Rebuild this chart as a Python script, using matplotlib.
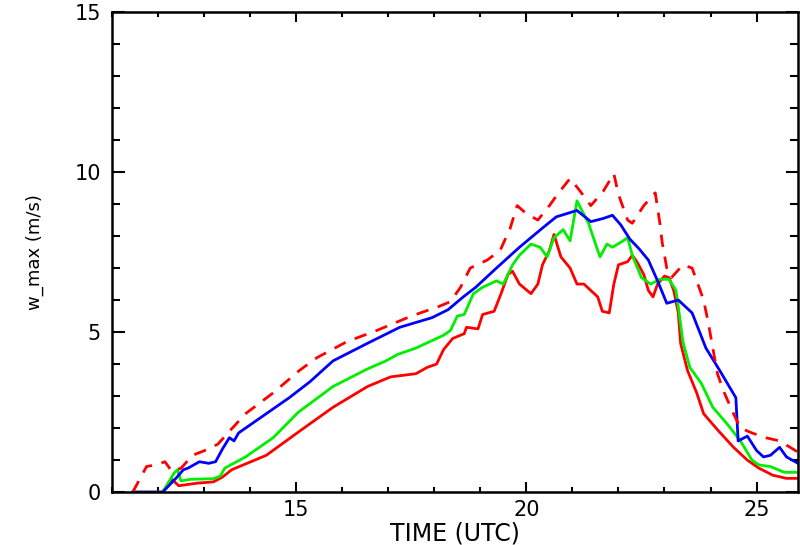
import matplotlib
matplotlib.use("Agg")
import matplotlib.pyplot as plt
from matplotlib.ticker import MultipleLocator

# ---- data ----
dash_x = [11.45, 11.6, 11.75, 11.95, 12.15, 12.3, 12.5, 12.75, 13.1, 13.3, 13.55, 13.9, 14.5,
          15.07, 15.45, 16.1, 16.75, 17.5, 18.1, 18.35, 18.57, 18.78, 19.15, 19.43, 19.65,
          19.8, 20.0, 20.25, 20.5, 20.7, 20.95, 21.17, 21.4, 21.67, 21.9, 22.0, 22.2, 22.3,
          22.55, 22.8, 22.9, 22.95, 23.05, 23.15, 23.4, 23.6, 23.7, 23.85, 23.95, 24.05,
          24.15, 24.3, 24.5, 24.65, 24.9, 25.2, 25.5, 25.9]
dash_y = [0.0, 0.4, 0.8, 0.85, 0.95, 0.65, 0.75, 1.15, 1.35, 1.5, 1.9, 2.45, 3.1,
          3.8, 4.2, 4.7, 5.05, 5.5, 5.8, 5.95, 6.4, 7.0, 7.25, 7.55, 8.25,
          8.95, 8.7, 8.5, 8.95, 9.35, 9.8, 9.4, 8.95, 9.4, 9.95, 9.3, 8.5, 8.4,
          8.95, 9.35, 8.4, 7.8, 7.0, 6.7, 7.1, 7.0, 6.6, 6.0, 5.3, 4.5,
          3.7, 3.1, 2.45, 2.0, 1.85, 1.7, 1.6, 1.25]

blue_x = [11.45, 12.1, 12.4, 12.55, 12.65, 12.9, 13.1, 13.25, 13.4, 13.55, 13.65, 13.75,
          14.25, 14.85, 15.3, 15.8, 16.55, 17.25, 17.95, 18.3, 18.63, 18.9, 19.35, 19.85,
          20.35, 20.65, 21.1, 21.4, 21.67, 21.87, 22.05, 22.25, 22.45, 22.65, 22.85, 23.05,
          23.3, 23.6, 23.9, 24.2, 24.55, 24.6, 24.8, 25.0, 25.15, 25.3, 25.5, 25.65, 25.9]
blue_y = [0.0, 0.0, 0.45, 0.7, 0.75, 0.95, 0.9, 0.95, 1.35, 1.7, 1.6, 1.85,
          2.35, 2.95, 3.45, 4.1, 4.65, 5.15, 5.45, 5.7, 6.1, 6.4, 7.0, 7.65,
          8.25, 8.6, 8.8, 8.45, 8.55, 8.65, 8.35, 7.9, 7.6, 7.25, 6.6, 5.9,
          6.0, 5.6, 4.5, 3.8, 2.95, 1.6, 1.75, 1.3, 1.1, 1.15, 1.4, 1.1, 0.9]

green_x = [11.45, 12.1, 12.35, 12.42, 12.5, 12.7, 13.2, 13.35, 13.45, 13.9, 14.5, 15.05,
           15.8, 16.55, 16.95, 17.2, 17.6, 18.2, 18.35, 18.5, 18.65, 18.85, 19.05, 19.35,
           19.5, 19.7, 19.85, 20.1, 20.3, 20.45, 20.6, 20.8, 20.95, 21.1, 21.17, 21.35,
           21.55, 21.6, 21.75, 21.87, 22.1, 22.2, 22.3, 22.5, 22.7, 22.9, 23.1, 23.25,
           23.3, 23.4, 23.55, 23.8, 24.05, 24.35, 24.65, 24.9, 25.05, 25.3, 25.6, 25.9]
green_y = [0.0, 0.0, 0.6, 0.7, 0.35, 0.4, 0.42, 0.5, 0.75, 1.1, 1.7, 2.5,
           3.3, 3.85, 4.1, 4.3, 4.5, 4.9, 5.05, 5.5, 5.55, 6.2, 6.4, 6.6,
           6.5, 7.1, 7.4, 7.75, 7.65, 7.35, 7.95, 8.2, 7.85, 9.1, 8.9, 8.4,
           7.55, 7.35, 7.75, 7.65, 7.85, 7.95, 7.4, 6.7, 6.5, 6.65, 6.65, 6.3,
           5.8, 4.7, 3.9, 3.4, 2.65, 2.15, 1.6, 1.0, 0.85, 0.8, 0.62, 0.62]

red_x = [11.45, 12.1, 12.3, 12.45, 12.85, 13.2, 13.4, 13.6, 14.35, 15.07, 15.8, 16.55,
         17.05, 17.6, 17.85, 18.05, 18.2, 18.4, 18.65, 18.7, 18.95, 19.05, 19.3, 19.45,
         19.6, 19.7, 19.85, 20.1, 20.25, 20.35, 20.5, 20.6, 20.75, 20.95, 21.1, 21.25,
         21.4, 21.55, 21.65, 21.8, 21.9, 22.0, 22.2, 22.3, 22.4, 22.55, 22.65, 22.75,
         22.85, 23.0, 23.1, 23.2, 23.3, 23.35, 23.5, 23.7, 23.85, 24.15, 24.5, 24.8,
         25.05, 25.35, 25.65, 25.9]
red_y = [0.0, 0.0, 0.4, 0.2, 0.28, 0.32, 0.47, 0.7, 1.15, 1.9, 2.65, 3.3,
         3.6, 3.7, 3.9, 4.0, 4.45, 4.8, 4.95, 5.15, 5.1, 5.55, 5.65, 6.2,
         6.8, 6.9, 6.5, 6.2, 6.5, 7.1, 7.55, 8.05, 7.35, 7.0, 6.5, 6.5,
         6.3, 6.1, 5.65, 5.6, 6.5, 7.1, 7.2, 7.4, 7.2, 6.8, 6.3, 6.1,
         6.5, 6.75, 6.7, 6.3, 5.6, 4.65, 3.8, 3.1, 2.45, 1.95, 1.4, 1.0,
         0.75, 0.53, 0.43, 0.43]

x_ticks = [15, 20, 25]
y_ticks = [0, 5, 10, 15]

# ---- figure ----
fig = plt.figure(figsize=(8.0, 5.45), dpi=100)
ax = fig.add_axes([0.14, 0.097, 0.8575, 0.881])

lw = 2.0
ax.plot(red_x, red_y, color="#ff0000", lw=lw)
ax.plot(green_x, green_y, color="#00ee00", lw=lw)
ax.plot(blue_x, blue_y, color="#0000ff", lw=lw)
ax.plot(dash_x, dash_y, color="#ff0000", lw=lw, linestyle=(0, (4.5, 3.5)))

ax.set_xlim(11, 25.9)
ax.set_ylim(0, 15)
ax.set_xticks(x_ticks)
ax.set_yticks(y_ticks)
ax.xaxis.set_minor_locator(MultipleLocator(1))
ax.yaxis.set_minor_locator(MultipleLocator(1))

for s in ax.spines.values():
    s.set_linewidth(1.8)
    s.set_color("black")

ax.tick_params(axis="both", which="both", direction="in", top=True, right=True,
               width=1.5, colors="black")
ax.tick_params(axis="x", which="major", length=7, pad=6, labelsize=15)
ax.tick_params(axis="x", which="minor", length=3.5)
ax.tick_params(axis="y", which="major", length=9, pad=8, labelsize=15)
ax.tick_params(axis="y", which="minor", length=6)

ax.set_xlabel("TIME (UTC)", fontsize=17, labelpad=1)
ax.set_ylabel("w_max (m/s)", fontsize=13, labelpad=22)

fig.savefig("out.png", dpi=100)
